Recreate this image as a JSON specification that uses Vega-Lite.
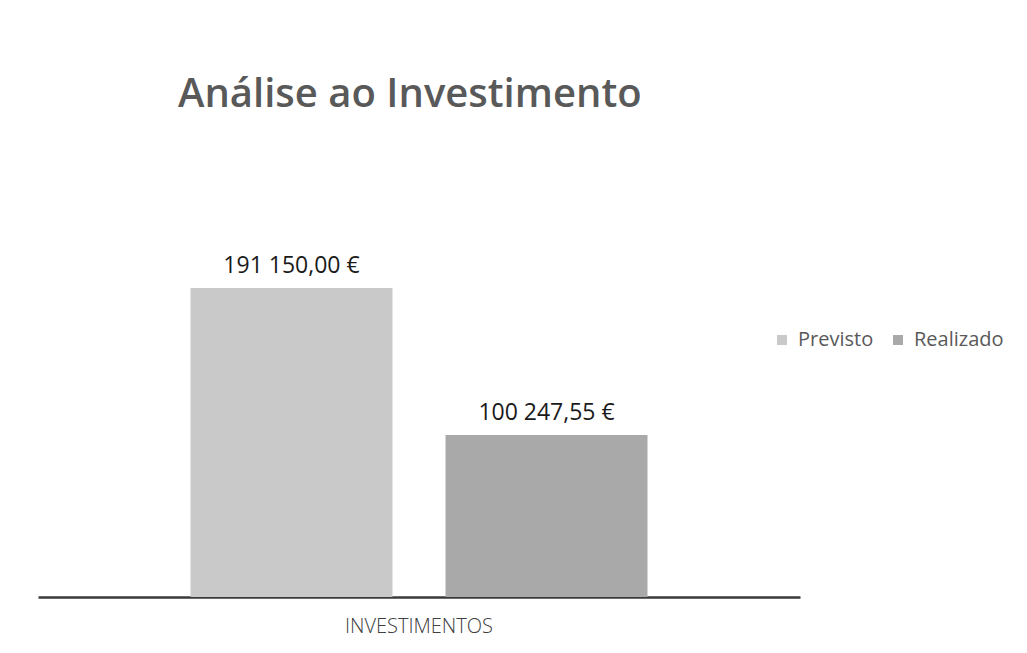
{
  "$schema": "https://vega.github.io/schema/vega-lite/v6.json",
  "width": 762,
  "height": 404,
  "autosize": "none",
  "padding": {"left": 38, "top": 193, "right": 227, "bottom": 56},
  "background": "white",
  "config": {
    "view": {"stroke": null},
    "locale": {"number": {"decimal": ",", "thousands": " ", "grouping": [3], "currency": ["", " €"]}},
    "font": "Open Sans"
  },
  "title": {
    "text": "Análise ao Investimento",
    "anchor": "start",
    "frame": "group",
    "dx": 140,
    "offset": 46,
    "baseline": "alphabetic",
    "fontSize": 40,
    "fontWeight": 600,
    "color": "#595959",
    "font": "Open Sans"
  },
  "data": {
    "values": [
      {"categoria": "INVESTIMENTOS", "serie": "Previsto", "valor": 191150.00},
      {"categoria": "INVESTIMENTOS", "serie": "Realizado", "valor": 100247.55}
    ]
  },
  "encoding": {
    "x": {
      "field": "categoria",
      "type": "nominal",
      "scale": {"paddingInner": 0, "paddingOuter": 0.3337},
      "axis": {
        "title": null,
        "labelAngle": 0,
        "labelFontSize": 20,
        "labelColor": "#404040",
        "labelFontWeight": 300,
        "labelPadding": 19,
        "ticks": false,
        "domainColor": "#3a3a3a",
        "domainWidth": 2.5
      }
    },
    "xOffset": {
      "field": "serie",
      "type": "nominal",
      "scale": {"paddingInner": 0.208, "paddingOuter": 0}
    },
    "y": {
      "field": "valor",
      "type": "quantitative",
      "scale": {"domain": [0, 250000]},
      "axis": null
    }
  },
  "layer": [
    {
      "mark": {"type": "bar"},
      "encoding": {
        "color": {
          "field": "serie",
          "type": "nominal",
          "scale": {"domain": ["Previsto", "Realizado"], "range": ["#c9c9c9", "#a9a9a9"]},
          "legend": {
            "title": null,
            "orient": "none",
            "direction": "horizontal",
            "legendX": 734,
            "legendY": 137,
            "symbolType": "square",
            "symbolSize": 100,
            "symbolStrokeWidth": 0,
            "labelFontSize": 20,
            "labelColor": "#595959",
            "columnPadding": 14,
            "labelOffset": 6
          }
        }
      }
    },
    {
      "mark": {"type": "text", "baseline": "middle", "dy": -22, "fontSize": 23, "color": "#1a1a1a"},
      "encoding": {
        "text": {"field": "valor", "type": "quantitative", "format": "$,.2f"}
      }
    }
  ]
}
